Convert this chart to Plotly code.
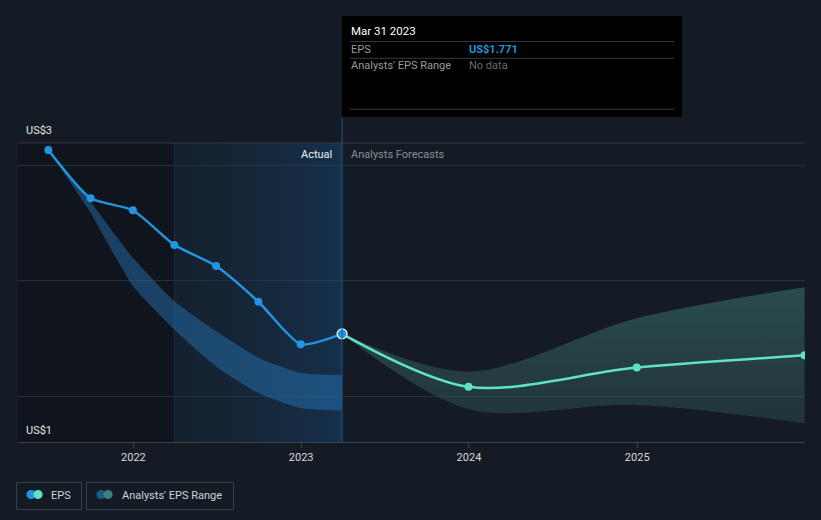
import plotly.graph_objects as go

# ---------------- data ----------------
eps_dates = ["2021-06-30", "2021-09-30", "2021-12-31", "2022-03-31", "2022-06-30",
             "2022-09-30", "2022-12-31", "2023-03-31"]
eps_values = [2.567, 2.358, 2.306, 2.156, 2.065, 1.910, 1.726, 1.771]

past_range_upper = [2.567, 2.342, 2.100, 1.912, 1.782, 1.668, 1.602, 1.593]
past_range_lower = [2.567, 2.294, 1.978, 1.790, 1.630, 1.515, 1.450, 1.439]

fc_dates = ["2023-03-31", "2023-12-31", "2024-12-31", "2025-12-31"]
fc_values = [1.771, 1.542, 1.625, 1.678]
fc_upper = [1.771, 1.607, 1.839, 1.973]
fc_lower = [1.771, 1.445, 1.463, 1.384]

year_ticks = ["2022-01-01", "2023-01-01", "2024-01-01", "2025-01-01"]
year_labels = ["2022", "2023", "2024", "2025"]
grid_vals = [1.5, 2.0, 2.5]

# ---------------- layout helpers ----------------
W, H = 821, 520
L, R, T, B = 18, 16, 143, 78
PW, PH = W - L - R, H - T - B
Y_MIN, Y_MAX = 1.303, 2.597
X_MIN, X_MAX = "2021-04-25", "2026-01-01"


def px(x):
    return (x - L) / PW


def py(y):
    return (H - B - y) / PH


BG = "#151b24"
BLUE = "#2394df"
TEAL = "#5ee3c9"

fig = go.Figure()

# actual-period highlight (gradient)
fig.add_trace(go.Scatter(
    x=[eps_dates[3], eps_dates[-1], eps_dates[-1], eps_dates[3], eps_dates[3]],
    y=[Y_MAX, Y_MAX, Y_MIN, Y_MIN, Y_MAX],
    fill="toself", mode="lines", line=dict(width=0),
    fillgradient=dict(type="horizontal",
                      colorscale=[[0, "rgba(20,50,80,0.22)"], [1, "rgba(22,70,115,0.50)"]]),
    hoverinfo="skip", showlegend=False))

# past analysts range band
fig.add_trace(go.Scatter(x=eps_dates, y=past_range_lower, mode="lines",
                         line=dict(width=0, shape="spline", smoothing=0.5),
                         hoverinfo="skip", showlegend=False))
fig.add_trace(go.Scatter(x=eps_dates, y=past_range_upper, mode="lines",
                         line=dict(width=0, shape="spline", smoothing=0.5),
                         fill="tonexty",
                         fillgradient=dict(type="horizontal",
                                           colorscale=[[0, "rgba(35,105,165,0.50)"],
                                                       [1, "rgba(35,105,165,0.58)"]]),
                         hoverinfo="skip", showlegend=False))

# forecast range band
fig.add_trace(go.Scatter(x=fc_dates, y=fc_lower, mode="lines",
                         line=dict(width=0, shape="spline", smoothing=0.9),
                         hoverinfo="skip", showlegend=False))
fig.add_trace(go.Scatter(x=fc_dates, y=fc_upper, mode="lines",
                         line=dict(width=0, shape="spline", smoothing=0.9),
                         fill="tonexty",
                         fillgradient=dict(type="vertical",
                                           colorscale=[[0, "rgba(70,140,140,0.22)"],
                                                       [1, "rgba(75,150,145,0.40)"]]),
                         hoverinfo="skip", showlegend=False))

# forecast EPS line
fig.add_trace(go.Scatter(x=fc_dates, y=fc_values, mode="lines+markers",
                         line=dict(color=TEAL, width=2.5, shape="spline", smoothing=0.9),
                         marker=dict(size=8, color=TEAL),
                         hoverinfo="skip", showlegend=False))

# actual EPS line
fig.add_trace(go.Scatter(x=eps_dates, y=eps_values, mode="lines+markers",
                         line=dict(color=BLUE, width=2.5, shape="spline", smoothing=0.6),
                         marker=dict(size=8, color=BLUE),
                         hoverinfo="skip", showlegend=False))
fig.add_trace(go.Scatter(x=[eps_dates[-1]], y=[eps_values[-1]], mode="markers",
                         marker=dict(size=10, color=BLUE, line=dict(color="white", width=1.2)),
                         hoverinfo="skip", showlegend=False))

shapes = []
# darker region left of the actual highlight
shapes.append(dict(type="rect", xref="x", yref="paper", x0=X_MIN, x1=eps_dates[3],
                   y0=0, y1=1, fillcolor="rgba(10,12,16,0.35)", line=dict(width=0),
                   layer="below"))
# faint vertical at start of highlight
shapes.append(dict(type="line", xref="x", yref="paper", x0=eps_dates[3], x1=eps_dates[3],
                   y0=0, y1=1, line=dict(color="rgba(40,80,120,0.35)", width=1), layer="below"))
# top line
shapes.append(dict(type="line", xref="paper", yref="paper", x0=0, x1=1, y0=1, y1=1,
                   line=dict(color="#343a43", width=1)))
# "now" vertical line, extending up to tooltip
shapes.append(dict(type="line", xref="x", yref="paper", x0=eps_dates[-1], x1=eps_dates[-1],
                   y0=0, y1=py(117), line=dict(color="#1d5683", width=1)))
# tooltip box
shapes.append(dict(type="rect", xref="paper", yref="paper", x0=px(342), x1=px(682),
                   y0=py(117), y1=py(16), fillcolor="#000000", line=dict(width=0)))
for yy in [41.5, 58.3, 109.3]:
    shapes.append(dict(type="line", xref="paper", yref="paper", x0=px(350), x1=px(674),
                       y0=py(yy), y1=py(yy), line=dict(color="#3a3a3a", width=1)))
# legend boxes
for (x0, x1) in [(16.5, 81.5), (86.5, 233.5)]:
    shapes.append(dict(type="rect", xref="paper", yref="paper", x0=px(x0), x1=px(x1),
                       y0=py(509.5), y1=py(482.5), line=dict(color="#3a4049", width=1),
                       fillcolor="rgba(0,0,0,0)"))
r = 4.6
for cx, col in [(31, BLUE), (38, TEAL), (101, "#1f5a86"), (108, "#3b8278")]:
    shapes.append(dict(type="circle", xref="paper", yref="paper",
                       x0=px(cx - r), x1=px(cx + r), y0=py(494.5 + r), y1=py(494.5 - r),
                       fillcolor=col, line=dict(width=0)))

FONT = "Roboto, 'Open Sans', sans-serif"
ann = []


def text(x, y, s, color, size=11, anchor="left", bold=False):
    ann.append(dict(xref="paper", yref="paper", x=px(x), y=py(y), text=f"<b>{s}</b>" if bold else s,
                    showarrow=False, xanchor=anchor, yanchor="middle",
                    font=dict(family=FONT, size=size, color=color)))


text(24, 130, "US$3", "#e6e6e6")
text(24, 430, "US$1", "#e6e6e6")
text(334, 154, "Actual", "#f0f0f0", anchor="right")
text(349, 154, "Analysts Forecasts", "#8a8f97")
text(349, 31, "Mar 31 2023", "#ffffff", size=11.5)
text(349, 49.5, "EPS", "#9a9a9a")
text(467, 49.5, "US$1.771", BLUE, bold=True)
text(349, 66, "Analysts' EPS Range", "#9a9a9a")
text(467, 66, "No data", "#6a6a6a")
text(49, 495, "EPS", "#cfd2d6")
text(119.5, 495, "Analysts' EPS Range", "#cfd2d6")

fig.update_layout(
    width=W, height=H,
    margin=dict(l=L, r=R, t=T, b=B, pad=0),
    paper_bgcolor=BG, plot_bgcolor=BG,
    showlegend=False,
    shapes=shapes, annotations=ann,
    font=dict(family=FONT),
    hovermode=False,
    xaxis=dict(type="date", range=[X_MIN, X_MAX], tickvals=year_ticks, ticktext=year_labels,
               showgrid=False, zeroline=False, showline=True, linecolor="#3d434c", linewidth=1,
               ticks="outside", ticklen=5, tickcolor="#3d434c",
               tickfont=dict(family=FONT, size=11, color="#d8d8d8"), fixedrange=True),
    yaxis=dict(range=[Y_MIN, Y_MAX], tickvals=grid_vals, showticklabels=False,
               showgrid=True, gridcolor="#2a3038", gridwidth=1, zeroline=False,
               showline=False, fixedrange=True),
)

fig.write_html("out.html", config={"displayModeBar": False})
